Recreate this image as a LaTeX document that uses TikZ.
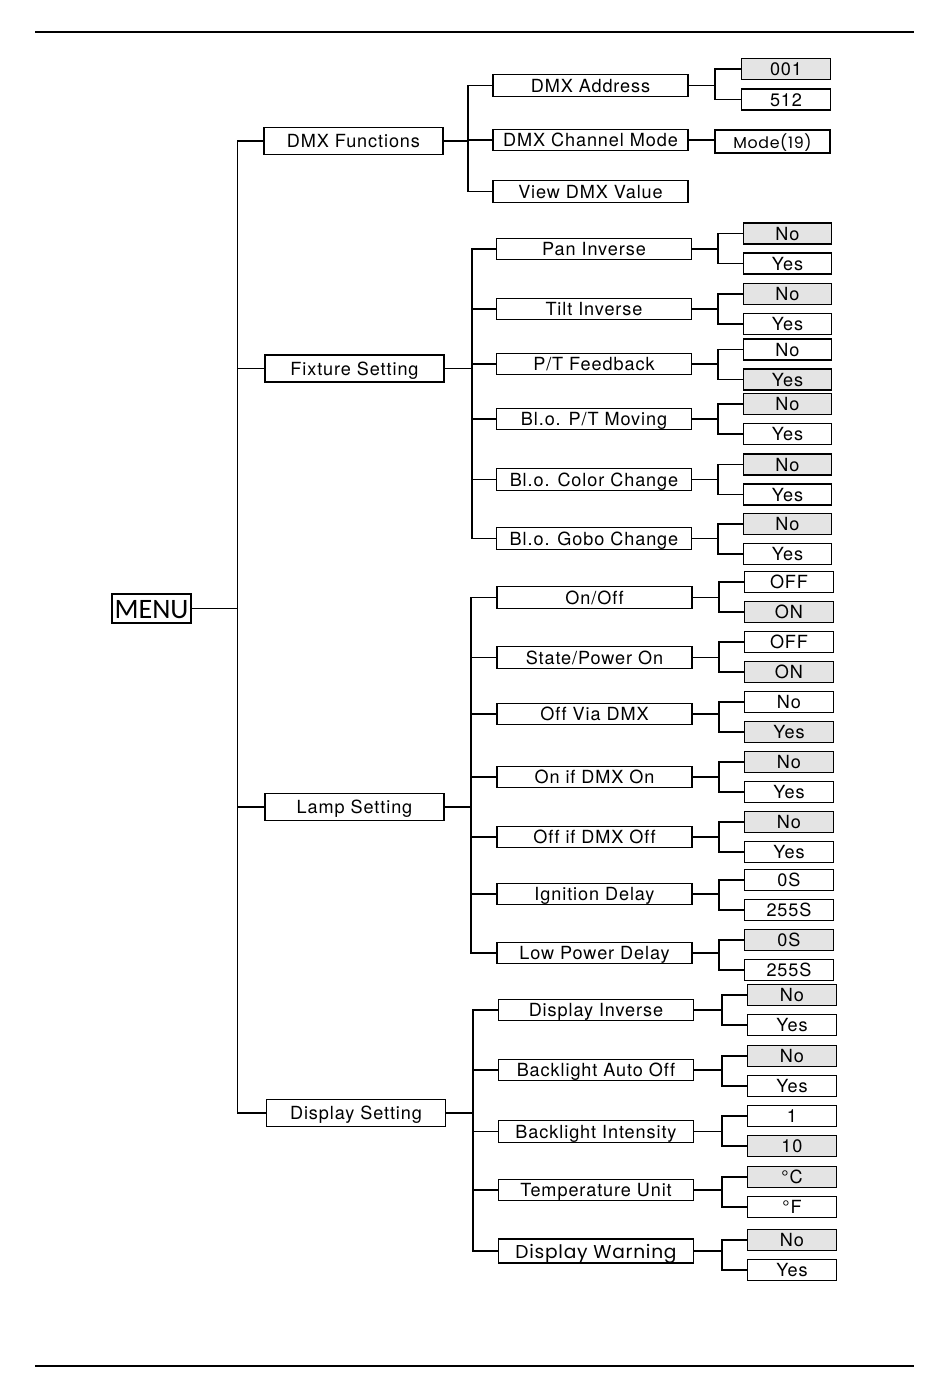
\documentclass[tikz,border=0pt]{standalone}
\usepackage{fontspec}
\setmainfont{TeX Gyre Heros}[LetterSpace=5, Ligatures=NoCommon]
\newfontfamily\menufont{Carlito}
\newfontfamily\geofont{Poppins}[LetterSpace=4]
\definecolor{optgray}{RGB}{228,228,228}

\begin{document}
\begin{tikzpicture}[x=0.02cm, y=-0.02cm, line width=0.6pt,
    every node/.style={inner sep=0pt, text height=7.5pt, text depth=0pt,
      font=\fontsize{10.3}{12}\selectfont},
    head/.style={draw, minimum width=3.58cm, minimum height=0.54cm},
    item/.style={draw, minimum width=3.9cm, minimum height=0.43cm},
    itemw/.style={item, minimum height=0.48cm, text height=8pt,
      font=\geofont\fontsize{10.6}{13}\selectfont},
    opt/.style={draw, fill=white, minimum width=1.77cm, minimum height=0.42cm},
    optg/.style={opt, fill=optgray}]

  \useasboundingbox (0,0) rectangle (950,1397);

  % Page rules
  \draw (35,32) -- (914,32);
  \draw (35,1366) -- (914,1366);

  % Root and first level
  \node [draw, minimum width=1.58cm, minimum height=0.58cm, text height=11pt,
    font=\menufont\fontsize{16}{18}\selectfont] (menu) at (151.5,608.5) {MENU};
  \coordinate (trunk) at (237.5,608.5);

  \node [head] (dmx)  at (353.5,141)   {DMX Functions};
  \node [head] (fix)  at (354.5,368.5) {Fixture Setting};
  \node [head] (lamp) at (354.5,807)   {Lamp Setting};
  \node [head] (disp) at (356,1113)    {Display Setting};

  \draw (menu) -- (trunk);
  \foreach \h in {dmx,fix,lamp,disp}
    \draw (trunk) |- (\h.west);

  % DMX Functions
  \coordinate (dmxj) at (468,141);
  \node [item] (addr) at (590.5,85.5)  {DMX Address};
  \node [item] (chan) at (590.5,140)   {DMX Channel Mode};
  \node [item] (view) at (590.5,191.5) {View DMX Value};
  \draw (dmx.east) -- (dmxj);
  \foreach \c in {addr,chan,view}
    \draw (dmxj) |- (\c.west);

  \node [optg] (addr-a) at (786,69)   {001};
  \node [opt]  (addr-b) at (786,99.5) {512};
  \coordinate (addr-j) at (715,85);
  \draw (addr.east) -- (addr.east -| addr-j);
  \draw (addr-a.west) -| (addr-j) |- (addr-b.west);

  \node [draw, minimum width=2.3cm, minimum height=0.46cm,
    font=\geofont\fontsize{9}{11}\selectfont] (mode) at (772.5,141.5) {Mode(19)};
  \draw (chan.east) -- (chan.east -| mode.west);

  % Fixture Setting
  \coordinate (fixj) at (472,368.5);
  \draw (fix.east) -- (fixj);
  \foreach \nm/\yy/\oy/\txt/\sa/\ta/\sb/\tb in {
      pan/249/248.5/Pan Inverse/optg/No/opt/Yes,
      tilt/309/309/Tilt Inverse/optg/No/opt/Yes,
      ptfb/364/364.5/{P/T Feedback}/opt/No/optg/Yes,
      ptmov/419/419/{Bl.o. P/T Moving}/optg/No/opt/Yes,
      color/479.5/479.5/Bl.o. Color Change/optg/No/opt/Yes,
      gobo/538.5/539/Bl.o. Gobo Change/optg/No/opt/Yes}
  {
    \node [item] (\nm) at (594,\yy) {\txt};
    \node [\sa] (\nm-a) at (787.5,\oy-15) {\ta};
    \node [\sb] (\nm-b) at (787.5,\oy+15) {\tb};
    \coordinate (\nm-j) at (718,\oy);
    \draw (fixj) |- (\nm.west);
    \draw (\nm.east) -- (\nm.east -| \nm-j);
    \draw (\nm-a.west) -| (\nm-j) |- (\nm-b.west);
  }

  % Lamp Setting
  \coordinate (lampj) at (471,807);
  \draw (lamp.east) -- (lampj);
  \foreach \nm/\yy/\oy/\txt/\sa/\ta/\sb/\tb in {
      onoff/597.5/597/{On/Off}/opt/OFF/optg/ON,
      state/657.5/657/{State/Power On}/opt/OFF/optg/ON,
      offvia/714/717/Off Via DMX/opt/No/optg/Yes,
      onif/777/777/On if DMX On/optg/No/opt/Yes,
      offif/837/837/Off if DMX Off/optg/No/opt/Yes,
      ign/894/895/Ignition Delay/opt/0S/opt/255S,
      lowp/953/955/Low Power Delay/optg/0S/opt/255S}
  {
    \node [item] (\nm) at (594.5,\yy) {\txt};
    \node [\sa] (\nm-a) at (789,\oy-15) {\ta};
    \node [\sb] (\nm-b) at (789,\oy+15) {\tb};
    \coordinate (\nm-j) at (719,\oy);
    \draw (lampj) |- (\nm.west);
    \draw (\nm.east) -- (\nm.east -| \nm-j);
    \draw (\nm-a.west) -| (\nm-j) |- (\nm-b.west);
  }

  % Display Setting
  \coordinate (dispj) at (473,1113);
  \draw (disp.east) -- (dispj);
  \foreach \nm/\yy/\oy/\st/\txt/\sa/\ta/\sb/\tb in {
      dinv/1010/1010/item/Display Inverse/optg/No/opt/Yes,
      blauto/1070/1071/item/Backlight Auto Off/optg/No/opt/Yes,
      blint/1131.5/1131/item/Backlight Intensity/opt/1/optg/10,
      temp/1190/1192/item/Temperature Unit/optg/°C/opt/°F,
      warn/1251/1255/itemw/Display Warning/optg/No/opt/Yes}
  {
    \node [\st] (\nm) at (596,\yy) {\txt};
    \node [\sa] (\nm-a) at (792,\oy-15) {\ta};
    \node [\sb] (\nm-b) at (792,\oy+15) {\tb};
    \coordinate (\nm-j) at (722,\oy);
    \draw (dispj) |- (\nm.west);
    \draw (\nm.east) -- (\nm.east -| \nm-j);
    \draw (\nm-a.west) -| (\nm-j) |- (\nm-b.west);
  }

\end{tikzpicture}
\end{document}
